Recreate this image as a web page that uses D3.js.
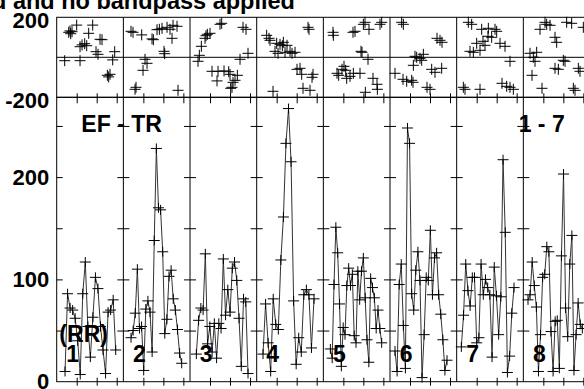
<!DOCTYPE html>
<html lang="en">
<head>
<meta charset="UTF-8">
<title>EF - TR</title>
<script src="https://d3js.org/d3.v7.min.js"></script>
<style>
  body { margin: 0; background: #fff; }
  svg { display: block; font-family: "Liberation Sans", Arial, sans-serif; font-weight: bold; }
  .axis path { display: none; }
  .axis line { stroke: #000; }
</style>
</head>
<body>
<div class="canvas"></div>
<script>
// trial numbers (one panel each)
const trials = ['1', '2', '3', '4', '5', '6', '7', '8'];

// RR intervals per trial, lower part
const rr1 = [10, 86, 72, 70, 62, 40, 7, 86, 117, 54, 24, 63, 102, 91, 54, 31, 8, 68, 70, 80, 31];
const rr2 = [43, 50, 67, 110, 52, 54, 11, 71, 79, 68, 29, 138, 228, 170, 168, 127, 47, 61, 103, 109, 81, 70, 51, 28, 18];
const rr3 = [27, 60, 72, 70, 125, 37, 54, 29, 57, 23, 57, 52, 120, 65, 90, 68, 111, 117, 99, 62, 15, 81, 78, 8];
const rr4 = [27, 76, 38, 10, 81, 56, 51, 119, 161, 233, 267, 215, 79, 17, 43, 29, 85, 90, 85, 33, 81];
const rr5 = [32, 23, 95, 151, 126, 76, 15, 53, 46, 94, 111, 94, 105, 45, 38, 108, 80, 108, 121, 82, 41, 19, 101, 92, 82, 52, 70, 52, 38];
const rr6 = [30, 10, 95, 115, 55, 13, 248, 233, 86, 70, 109, 127, 99, 4, 46, 102, 99, 148, 85, 121, 126, 85, 66, 41, 11, 21];
const rr7 = [34, 65, 115, 89, 74, 102, 102, 38, 43, 115, 85, 100, 92, 85, 24, 112, 84, 46, 83, 217, 146, 9, 25, 67, 92];
const rr8 = [80, 85, 117, 94, 73, 10, 46, 102, 105, 132, 127, 49, 10, 59, 60, 13, 123, 203, 72, 44, 115, 143, 11, 46, 77, 56, 52];
const rrSeries = [rr1, rr2, rr3, rr4, rr5, rr6, rr7, rr8];

// time of first and last beat in each trial
const beatStart = [1.25, 1.15, 0.95, 0.95, 1.05, 0.75, 0.7, 0.7];
const beatEnd   = [8.85, 8.75, 8.7, 8.6, 8.75, 8.55, 8.6, 8.85];

// phase difference EF - TR per trial, upper part: [time, phase]
const ph1 = [[1.2,-17],[1.8,125],[2.0,132],[2.1,118],[2.3,128],[3.0,161],[3.5,53],[3.5,-17],[3.8,62],[4.2,68],[4.5,58],[4.8,120],[5.4,161],[5.9,28],[6.2,15],[6.5,90],[6.8,88],[7.6,-90],[7.8,-98],[8.0,-85],[8.4,-13],[8.7,28]];
const ph2 = [[1.15,130],[1.45,125],[1.75,-160],[1.9,-150],[2.75,112],[2.95,-65],[3.25,-10],[3.55,-30],[4.3,92],[4.5,88],[5.05,138],[5.4,140],[5.8,145],[6.1,30],[6.2,18],[6.55,150],[7.0,140],[7.3,95],[7.45,160],[8.05,155],[8.2,-165]];
const ph3 = [[1.2,-20],[1.4,10],[1.7,55],[2.25,95],[2.4,108],[2.6,115],[3.0,120],[3.3,-70],[4.05,-118],[4.2,-70],[4.5,165],[4.75,170],[5.1,-68],[5.8,-72],[6.0,-85],[6.1,-155],[6.3,-150],[6.45,-125],[6.75,-115],[7.1,-90],[7.5,-10],[7.95,150],[8.4,140],[8.7,20]];
const ph4 = [[1.5,110],[1.85,95],[2.0,85],[2.45,-170],[2.75,30],[3.0,70],[3.2,20],[3.5,65],[3.85,58],[4.0,75],[4.25,25],[4.55,60],[5.0,30],[5.3,20],[5.75,25],[6.05,-60],[6.5,-55],[6.75,-85],[6.95,-155],[7.7,150],[7.85,140],[8.0,-165],[8.3,-100],[8.45,-85]];
const ph5 = [[1.45,125],[1.5,110],[2.05,-80],[2.3,-90],[2.8,-60],[3.1,-45],[3.35,-65],[3.5,-105],[4.0,-95],[4.45,125],[4.5,-80],[4.75,130],[5.5,-80],[5.65,30],[5.8,25],[6.0,165],[6.25,175],[6.3,-175],[6.7,-10],[6.85,140],[7.45,-105],[8.05,-135],[8.1,-160],[8.5,165],[8.75,175]];
const ph6 = [[0.75,-80],[1.75,175],[1.95,-110],[2.0,165],[2.5,-120],[3.25,-115],[3.45,-125],[3.5,-40],[3.75,5],[4.0,0],[4.5,-5],[4.75,-15],[5.0,15],[5.55,-150],[6.0,-160],[6.25,-60],[6.75,-75],[7.05,95],[7.5,85],[7.75,-55],[7.8,75]];
const ph7 = [[1.0,-150],[1.25,-160],[1.75,175],[2.0,30],[2.25,165],[2.5,25],[3.0,70],[3.5,-160],[3.5,35],[3.75,140],[3.95,80],[4.25,60],[4.7,105],[4.75,145],[5.25,100],[5.75,140],[6.0,130],[6.5,70],[6.8,-130],[7.25,55],[7.5,-145],[8.0,-20],[8.0,-150],[8.5,-160]];
const ph8 = [[1.0,20],[1.3,-90],[1.5,0],[1.75,-20],[2.0,25],[2.5,140],[2.8,-155],[3.25,175],[3.5,165],[4.0,160],[4.75,100],[4.75,-55],[5.0,75],[5.25,-60],[6.0,-15],[6.25,-20],[6.5,175],[7.25,170],[7.5,-155],[7.75,-165],[8.25,-55],[8.5,-70],[9.0,150]];
const phaseSeries = [ph1, ph2, ph3, ph4, ph5, ph6, ph7, ph8];

const phaseTicks = [-200, 200];
const rrTickLabels = [0, 100, 200];
const rrMinorTicks = [50, 100, 150, 200, 250];
const timeTicks = [3, 6, 9];
const panelLen = 10;

const width = 584;
const height = 389;

const svg = d3.select('.canvas')
  .append('svg')
  .attr('width', width)
  .attr('height', height);

const x = d3.scaleLinear()
  .domain([0, panelLen * trials.length])
  .range([56.7, 590]);

const yTop = d3.scaleLinear()
  .domain([-200, 200])
  .range([97.3, 17.3]);

const yBot = d3.scaleLinear()
  .domain([0, 278])
  .range([381.7, 97.3]);

const xEnd = panelLen * trials.length;

// title (cut off at the left like the original)
svg.append('text')
  .attr('x', -8)
  .attr('y', 9)
  .style('font-size', '23.5px')
  .text('d and no bandpass applied');

// frames
const frame = svg.append('g').attr('stroke', '#000').attr('fill', 'none');
frame.append('rect')
  .attr('x', x(0)).attr('y', yTop(200))
  .attr('width', x(xEnd) - x(0)).attr('height', yTop(-200) - yTop(200));
frame.append('rect')
  .attr('x', x(0)).attr('y', yBot(278))
  .attr('width', x(xEnd) - x(0)).attr('height', yBot(0) - yBot(278));
frame.append('line')
  .attr('x1', x(0)).attr('x2', x(xEnd))
  .attr('y1', yTop(0)).attr('y2', yTop(0));
frame.selectAll('.divider')
  .data(d3.range(1, trials.length))
  .join('line')
  .attr('x1', d => x(d * panelLen)).attr('x2', d => x(d * panelLen))
  .attr('y1', yTop(200)).attr('y2', yBot(0));

// time ticks, at the boundary between the two parts and at the bottom
const tickVals = trials.flatMap((_, i) => timeTicks.map(t => i * panelLen + t));
const tickAxis = (axisFn, size, y) => svg.append('g')
  .attr('class', 'axis')
  .attr('transform', `translate(0, ${y})`)
  .call(axisFn(x).tickValues(tickVals).tickSize(size).tickFormat(''));
tickAxis(d3.axisTop, 4, yTop(-200));
tickAxis(d3.axisBottom, 6, yTop(-200));
tickAxis(d3.axisTop, 4, yBot(0));
tickAxis(d3.axisBottom, 4, yBot(0));

// RR ticks on every panel border
trials.forEach((_, i) => {
  const bx = x(i * panelLen);
  svg.append('g')
    .attr('class', 'axis')
    .attr('transform', `translate(${bx}, 0)`)
    .call(d3.axisRight(yBot).tickValues(rrMinorTicks).tickSize(6).tickFormat(''));
  if (i > 0) {
    svg.append('g')
      .attr('class', 'axis')
      .attr('transform', `translate(${bx}, 0)`)
      .call(d3.axisLeft(yBot).tickValues(rrMinorTicks).tickSize(6).tickFormat(''));
  }
});

// tick labels, plain hyphen for negatives
const labelAxis = (scale, vals, dy) => {
  const g = svg.append('g')
    .attr('class', 'axis')
    .attr('transform', `translate(${x(0) - 7.5}, 0)`)
    .call(d3.axisLeft(scale).tickValues(vals).tickSize(0).tickPadding(0).tickFormat(d => String(d)));
  g.selectAll('text')
    .attr('fill', '#000')
    .attr('dy', dy)
    .style('font-size', '22px')
    .style('font-family', '"Liberation Sans", Arial, sans-serif')
    .style('font-weight', 'bold');
};
labelAxis(yTop, phaseTicks, '0.45em');
labelAxis(yBot, rrTickLabels, '0.33em');

// phase crosses (upper part)
const cross = 'M-5.5,0H5.5M0,-5.5V5.5';
phaseSeries.forEach((pts, i) => {
  svg.append('g')
    .selectAll('path')
    .data(pts)
    .join('path')
    .attr('d', cross)
    .attr('transform', d => `translate(${x(i * panelLen + d[0])}, ${yTop(d[1])})`)
    .attr('stroke', '#000')
    .attr('fill', 'none');
});

// RR lines with crosses (lower part)
rrSeries.forEach((vals, i) => {
  const step = (beatEnd[i] - beatStart[i]) / (vals.length - 1);
  const pts = vals.map((v, j) => [i * panelLen + beatStart[i] + j * step, v]);
  const line = d3.line()
    .x(d => x(d[0]))
    .y(d => yBot(d[1]));
  svg.append('path')
    .attr('d', line(pts))
    .attr('fill', 'none')
    .attr('stroke', '#333')
    .attr('stroke-width', 1);
  svg.append('g')
    .selectAll('path')
    .data(pts)
    .join('path')
    .attr('d', 'M-5.5,0H5.5M0,-5V5')
    .attr('transform', d => `translate(${x(d[0])}, ${yBot(d[1])})`)
    .attr('stroke', '#000')
    .attr('fill', 'none');
});

// labels
const label = (txt, tx, ty) => svg.append('text')
  .attr('x', tx).attr('y', ty)
  .style('font-size', '23px')
  .text(txt);
label('EF - TR', x(3.7), 131.7);
label('1 - 7', x(69.3), 131.5);
label('(RR)', x(0.4), 341.7);
trials.forEach((t, i) => label(t, x(i * panelLen + 1.45), 362));
</script>
</body>
</html>
